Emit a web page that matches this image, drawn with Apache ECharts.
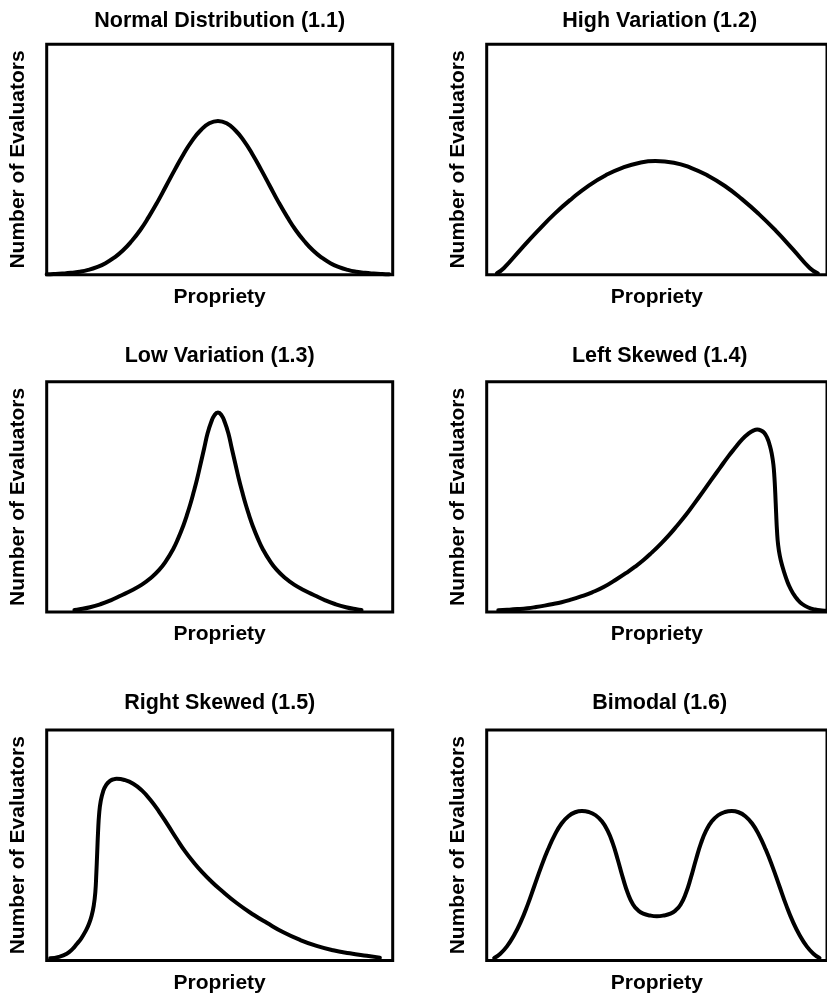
<!DOCTYPE html>
<html><head><meta charset="utf-8">
<script src="https://cdn.jsdelivr.net/npm/echarts@6/dist/echarts.min.js"></script>
<style>html,body{margin:0;padding:0;background:#fff}#c{width:827px;height:996px}</style>
</head><body><div id="c"></div>
<script>
// ---- data ----
const panelTitles = ['Normal Distribution (1.1)', 'High Variation (1.2)', 'Low Variation (1.3)',
                     'Left Skewed (1.4)', 'Right Skewed (1.5)', 'Bimodal (1.6)'];
const xAxisName = 'Propriety';
const yAxisName = 'Number of Evaluators';

const normalX = [0, 2, 4.5, 7, 9.5, 12, 14.5, 17, 19.5, 22, 24.5, 27, 29.5, 32, 34.5, 37, 39.5, 42, 44.5, 47, 49.5,
                 52, 54.5, 57, 59.5, 62, 64.5, 67, 69.5, 72, 74.5, 77, 79.5, 82, 84.5, 87, 89.5, 92, 94.5, 97, 99];
const normalY = [0.2, 0.3, 0.5, 0.8, 1.3, 2.1, 3.3, 5.0, 7.4, 10.5, 14.5, 19.3, 25.1, 31.5, 38.5, 45.5, 52.2, 58.1, 62.7, 65.7, 66.7,
                 65.7, 62.7, 58.1, 52.2, 45.5, 38.5, 31.5, 25.1, 19.3, 14.5, 10.5, 7.4, 5.0, 3.3, 2.1, 1.3, 0.8, 0.5, 0.3, 0.2];

const highX = [3, 5, 10, 15, 20, 25, 30, 35, 40, 45, 49.6, 55, 60, 65, 70, 75, 80, 85, 90, 95, 97.3];
const highY = [0.6, 2.8, 11, 19, 26.5, 33, 38.7, 43.2, 46.5, 48.6, 49.3, 48.6, 46.4, 43, 38.5, 32.8, 26.3, 19, 11, 2.8, 0.6];

const lowX = [8, 9.5, 12.5, 15.5, 18.5, 21.5, 24.5, 27.5, 30, 32.5, 34.5, 36.5, 38, 39.5, 40.5, 41.5, 42.5, 43.5, 44.5, 45.5, 46.5, 47.5, 48.5, 49.5,
              50.5, 51.5, 52.5, 53.5, 54.5, 55.5, 56.5, 57.5, 58.5, 59.5, 61, 62.5, 64.5, 66.5, 69, 71.5, 74.5, 77.5, 80.5, 83.5, 86.5, 89.5, 91];
const lowY = [0.9, 1.2, 2.1, 3.4, 5.1, 7.2, 9.4, 11.9, 14.7, 18.3, 22.2, 27.2, 32.0, 37.6, 42.0, 46.8, 52.2, 58.0, 64.5, 71.0, 77.6, 82.3, 85.5, 86.6,
              85.5, 82.3, 77.6, 71.0, 64.5, 58.0, 52.2, 46.8, 42.0, 37.6, 32.0, 27.2, 22.2, 18.3, 14.7, 11.9, 9.4, 7.2, 5.1, 3.4, 2.1, 1.2, 0.9];

const leftX = [3.4, 6, 9, 12, 14.5, 17, 19.5, 22, 24.5, 27.5, 31, 34.5, 38.5, 41, 43.5, 46, 48.5, 51, 53.5, 56, 58.5, 61, 63.5, 66, 68.5, 71, 73, 75, 77, 78.5, 79.5,
               80.5, 81.5, 82.4, 83.2, 83.8, 84.25, 84.55, 84.8, 85.05, 85.3, 85.65, 86.2, 86.9, 87.8, 88.8, 90, 91.3, 92.8, 94.5, 96.5, 98.5, 100];
const leftY = [0.8, 1.0, 1.3, 1.7, 2.2, 2.8, 3.5, 4.3, 5.3, 6.7, 8.6, 11.0, 14.6, 17.0, 19.6, 22.5, 25.8, 29.4, 33.3, 37.6, 42.1, 47.1, 52.2, 57.4, 62.5, 67.6, 71.3, 74.9, 77.6, 78.9, 79.2,
               78.9, 77.9, 75.7, 72.3, 68.4, 64.0, 58.5, 51.5, 43.0, 35.5, 29.0, 24.0, 19.8, 15.5, 11.6, 8.2, 5.5, 3.4, 2.0, 1.1, 0.7, 0.6];

const rightX = [1, 3.5, 5.8, 7.5, 8.7, 10, 11.2, 12.2, 13, 13.6, 14.05, 14.35, 14.6, 14.85, 15.15, 15.6, 16.3, 17.2, 18.3, 19.3, 20.2,
                22.5, 25, 27.5, 30, 32.5, 35, 37.5, 40, 42.5, 45, 47.5, 50, 55, 60, 63.6, 68.4, 73.2, 78, 82.8, 87.6, 92.5, 96.3];
const rightY = [0.9, 1.5, 2.9, 5.0, 7.1, 9.6, 12.6, 15.8, 19.5, 23.8, 29.5, 38, 47, 56, 63.5, 69, 73.3, 76.2, 77.9, 78.6, 78.8,
                78.3, 76.7, 73.8, 69.6, 64.5, 58.8, 52.9, 47.3, 42.5, 38.2, 34.4, 31.0, 24.8, 19.6, 16.3, 12.2, 8.9, 6.3, 4.4, 3.1, 2.0, 1.2];

const bimodalX = [2.2, 4, 6, 8, 10, 12, 14, 16, 18, 20, 22, 24, 26, 28, 30, 32, 34, 35.5, 37, 38.5, 40, 41.5, 43, 44.5, 46, 48, 50,
                  52, 54, 55.5, 57, 58.5, 60, 61.5, 63, 64.5, 66, 68, 70, 72, 74, 76, 78, 80, 82, 84, 86, 88, 90, 92, 94, 96, 97.8];
const bimodalY = [1.0, 2.9, 6.2, 10.8, 16.7, 24.0, 32.3, 40.6, 48.1, 54.5, 59.4, 62.6, 64.3, 64.8, 64.4, 63.0, 60.1, 56.4, 51.0, 43.8, 35.9, 29.0, 24.3, 21.7, 20.3, 19.5, 19.2,
                  19.5, 20.3, 21.7, 24.3, 29.0, 35.9, 43.8, 51.0, 56.4, 60.1, 63.0, 64.4, 64.8, 64.3, 62.6, 59.4, 54.5, 48.1, 40.6, 32.3, 24.0, 16.7, 10.8, 6.2, 2.9, 1.0];

// ---- layout ----
const curves = [[normalX, normalY], [highX, highY], [lowX, lowY], [leftX, leftY], [rightX, rightY], [bimodalX, bimodalY]];
const colLeft = [46.7, 486.7];
const rowTop = [44.3, 381.7, 730];
const gridW = 346, gridH = 230.4;
const titleY = [21, 356, 703.5];
const FONT = '"Liberation Sans", Arial, Helvetica, sans-serif';

const grids = [], xAxes = [], yAxes = [], series = [], graphics = [];
curves.forEach(function (c, i) {
  const col = i % 2, row = Math.floor(i / 2);
  grids.push({ left: colLeft[col], top: rowTop[row], width: gridW, height: gridH,
    show: true, borderColor: '#000', borderWidth: 3, backgroundColor: 'transparent', containLabel: false });
  xAxes.push({ type: 'value', gridIndex: i, min: 0, max: 100,
    axisLine: { show: false }, axisTick: { show: false }, axisLabel: { show: false }, splitLine: { show: false },
    name: xAxisName, nameLocation: 'middle', nameGap: 12,
    nameTextStyle: { fontFamily: FONT, fontSize: 21, fontWeight: 'bold', color: '#000' } });
  yAxes.push({ type: 'value', gridIndex: i, min: 0, max: 100,
    axisLine: { show: false }, axisTick: { show: false }, axisLabel: { show: false }, splitLine: { show: false },
    name: yAxisName, nameLocation: 'middle', nameGap: 17.5,
    nameTextStyle: { fontFamily: FONT, fontSize: 21, fontWeight: 'bold', color: '#000' } });
  series.push({ type: 'line', xAxisIndex: i, yAxisIndex: i,
    data: c[0].map(function (x, k) { return [x, c[1][k]]; }),
    symbol: 'none', showSymbol: false, smooth: 0.5, silent: true, clip: false,
    lineStyle: { color: '#000', width: 4, cap: 'round', join: 'round' } });
  graphics.push({ type: 'text', x: colLeft[col] + gridW / 2, y: titleY[row], silent: true,
    style: { text: panelTitles[i], fill: '#000', font: 'bold 21.5px ' + FONT,
      textAlign: 'center', textVerticalAlign: 'middle', align: 'center', verticalAlign: 'middle' } });
});

const chart = echarts.init(document.getElementById('c'), null, { renderer: 'canvas' });
chart.setOption({
  animation: false,
  backgroundColor: '#fff',
  grid: grids, xAxis: xAxes, yAxis: yAxes, series: series,
  graphic: { elements: graphics }
});
</script></body></html>
